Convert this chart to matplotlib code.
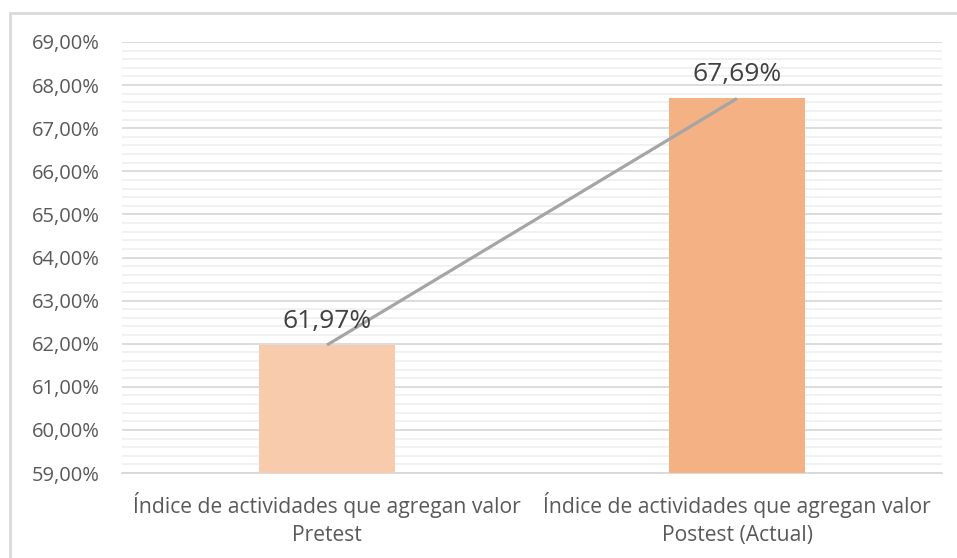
import matplotlib
matplotlib.use("Agg")
import matplotlib.pyplot as plt
from matplotlib.patches import Rectangle
from matplotlib.ticker import MultipleLocator, FuncFormatter

# Data
categories = ["Índice de actividades que agregan valor\nPretest",
              "Índice de actividades que agregan valor\nPostest (Actual)"]
values = [61.97, 67.69]
bar_colors = ["#F8CBAD", "#F4B183"]
y_min, y_max = 59.0, 69.0

plt.rcParams["font.family"] = ["Open Sans", "DejaVu Sans"]
text_color = "#595959"

fig = plt.figure(figsize=(9.57, 5.58), dpi=100)
fig.patch.set_facecolor("white")

# Chart frame (light gray border)
fig.patches.append(Rectangle((10 / 957, -0.05), 1.1, 1 - 13 / 558 + 0.05,
                             transform=fig.transFigure, fill=False,
                             edgecolor="#D9D9D9", linewidth=2))

ax = fig.add_axes([122 / 957, 1 - 473 / 558, 820 / 957, 431 / 558])

x = list(range(len(categories)))
ax.bar(x, values, width=0.334, color=bar_colors, zorder=3, bottom=0)
ax.plot(x, values, color="#A5A5A5", linewidth=2.3, zorder=4,
        solid_capstyle="butt")

for xi, v in zip(x, values):
    ax.annotate(f"{v:.2f}%".replace(".", ","), (xi, v),
                xytext=(0, 8), textcoords="offset points",
                ha="center", va="bottom", fontsize=19, color="#404040",
                zorder=5)

ax.set_xlim(-0.5, 1.5)
ax.set_ylim(y_min, y_max)
ax.yaxis.set_major_locator(MultipleLocator(1))
ax.yaxis.set_minor_locator(MultipleLocator(0.2))
ax.yaxis.set_major_formatter(
    FuncFormatter(lambda v, _: f"{v:.2f}%".replace(".", ",")))

ax.grid(which="major", axis="y", color="#D9D9D9", linewidth=1.3, zorder=1)
ax.grid(which="minor", axis="y", color="#F0F0F0", linewidth=1.3, zorder=1)

ax.set_xticks(x)
ax.set_xticklabels(categories, linespacing=1.42)
ax.tick_params(axis="both", which="both", length=0, colors=text_color,
               labelsize=14.5)
ax.tick_params(axis="x", labelsize=15.2, pad=14)
ax.tick_params(axis="y", pad=16)

for s in ["top", "right", "left"]:
    ax.spines[s].set_visible(False)
ax.spines["bottom"].set_color("#D9D9D9")
ax.spines["bottom"].set_linewidth(1.3)

fig.savefig("out.png", dpi=100, facecolor="white")
